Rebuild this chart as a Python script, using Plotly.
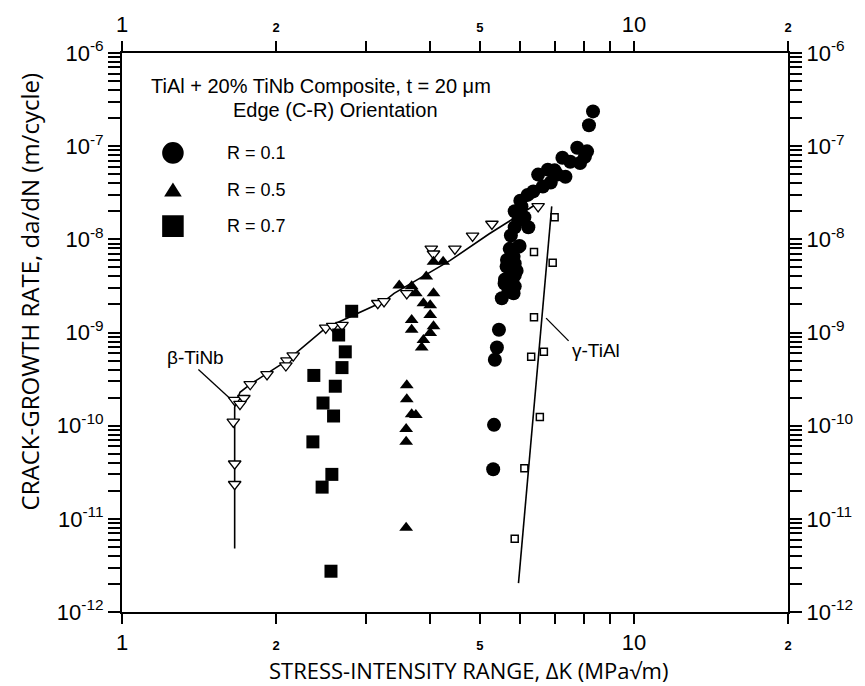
import plotly.graph_objects as go
import math

# ---------------- data ----------------
r01_dk = [8.32, 8.17, 7.75, 8.02, 7.25, 7.85, 7.51, 6.79, 6.50, 7.09, 7.35, 6.88, 6.64, 6.36,
          6.03, 5.85, 6.11, 6.22, 5.85, 5.95, 5.82, 5.85, 5.85, 5.85, 5.82, 5.72, 5.98, 5.64,
          5.77, 5.59, 5.69, 5.52, 5.45, 5.40, 5.35, 5.33, 5.31,
          8.10, 7.00, 6.20, 6.00, 5.95, 5.75, 5.65, 5.90, 5.60]
r01_da = [2.36e-7, 1.68e-7, 9.6e-8, 7.7e-8, 7.5e-8, 6.6e-8, 6.8e-8, 5.6e-8, 4.95e-8, 4.95e-8,
          4.7e-8, 4.07e-8, 3.69e-8, 3.27e-8, 2.26e-8, 2.0e-8, 1.73e-8, 1.35e-8, 1.35e-8, 8.3e-9,
          6.5e-9, 5.5e-9, 4.1e-9, 3.13e-9, 2.63e-9, 7.9e-9, 8.5e-9, 5.1e-9, 4.0e-9, 3.36e-9,
          2.77e-9, 2.33e-9, 1.07e-9, 6.9e-10, 5.1e-10, 1.02e-10, 3.4e-11,
          8.8e-8, 5.5e-8, 3.0e-8, 2.6e-8, 1.6e-8, 1.1e-8, 6.0e-9, 4.6e-9, 3.7e-9]

r05_dk = [3.48, 3.68, 3.75, 3.93, 3.88, 4.00, 4.06, 3.68, 4.00, 3.68, 4.06, 4.00, 3.88, 3.85,
          3.60, 3.60, 3.68, 3.75, 3.59, 3.59, 4.06, 4.24, 3.59]
r05_da = [3.2e-9, 3.13e-9, 2.63e-9, 3.99e-9, 2.06e-9, 1.96e-9, 2.63e-9, 1.36e-9, 1.54e-9,
          1.07e-9, 1.17e-9, 9.9e-10, 8.3e-10, 6.9e-10, 2.71e-10, 1.92e-10, 1.33e-10, 1.30e-10,
          9.2e-11, 6.7e-11, 5.75e-9, 5.75e-9, 8.0e-12]

r07_dk = [2.81, 2.65, 2.73, 2.69, 2.37, 2.61, 2.47, 2.59, 2.36, 2.57, 2.46, 2.56]
r07_da = [1.69e-9, 9.4e-10, 6.2e-10, 4.2e-10, 3.46e-10, 2.65e-10, 1.75e-10, 1.27e-10,
          6.7e-11, 3.0e-11, 2.19e-11, 2.74e-12]

tinb_dk = [1.66, 1.73, 1.70, 1.65, 1.66, 1.66, 1.78, 1.92, 2.10, 2.16, 2.09, 2.50, 2.58, 2.69,
           3.16, 3.25, 4.02, 4.06, 4.47, 4.84, 3.60, 5.28, 6.50]
tinb_da = [1.88e-10, 1.97e-10, 1.70e-10, 1.10e-10, 3.9e-11, 2.35e-11, 2.78e-10, 3.55e-10,
           5.0e-10, 5.65e-10, 4.42e-10, 1.12e-9, 1.17e-9, 1.20e-9, 2.06e-9, 2.16e-9, 7.9e-9,
           7.0e-9, 7.9e-9, 1.09e-8, 2.63e-9, 1.46e-8, 2.26e-8]

tial_dk = [7.00, 6.38, 6.94, 6.38, 6.30, 6.67, 6.55, 6.11, 5.85]
tial_da = [1.73e-8, 7.3e-9, 5.6e-9, 1.46e-9, 5.5e-10, 6.2e-10, 1.24e-10, 3.5e-11, 6.1e-12]

tinb_fit_dk = [1.66, 1.66, 1.70, 1.78, 2.10, 2.50, 3.25, 3.40, 4.37, 5.21, 6.44]
tinb_fit_da = [4.8e-12, 1.58e-10, 2.28e-10, 2.78e-10, 5.0e-10, 1.12e-9, 2.16e-9, 2.63e-9,
               5.9e-9, 1.14e-8, 2.38e-8]

tial_fit_dk = [5.95, 6.91]
tial_fit_da = [2.04e-12, 2.26e-8]

x_tickvals = [1, 2, 3, 4, 5, 6, 7, 8, 9, 10, 20]
x_ticklabels = ["1", "2", "", "", "5", "", "", "", "", "10", "2"]
y_decades = [-12, -11, -10, -9, -8, -7, -6]

# ---------------- layout geometry ----------------
W, H = 865, 686
PX0, PX1, PY0, PY1 = 122, 802, 47, 612

def px(x):
    return (x - PX0) / (PX1 - PX0)

def py(y):
    return (PY1 - y) / (PY1 - PY0)

FONT = "Liberation Sans, Arial, sans-serif"
TITLEFONT = "Open Sans, Noto Sans, sans-serif"

small = {"2", "5"}
xt_text = [("<span style='font-size:13px;font-weight:bold'>%s</span>" % t) if t in small else t
           for t in x_ticklabels]

y_tickvals, y_ticktext = [], []
for d in y_decades:
    y_tickvals.append(10.0 ** d)
    y_ticktext.append("10<sup>%d</sup>" % d)
    if d < -6:
        for m in range(2, 10):
            y_tickvals.append(m * 10.0 ** d)
            y_ticktext.append("")

fig = go.Figure()

fig.add_trace(go.Scatter(x=tinb_fit_dk, y=tinb_fit_da, mode="lines",
                         line=dict(color="black", width=1.6), showlegend=False))
fig.add_trace(go.Scatter(x=tial_fit_dk, y=tial_fit_da, mode="lines",
                         line=dict(color="black", width=1.6), showlegend=False))
fig.add_trace(go.Scatter(x=tinb_dk, y=tinb_da, mode="markers",
                         marker=dict(symbol="triangle-down", size=11, color="white",
                                     line=dict(color="black", width=1.3)), showlegend=False))
fig.add_trace(go.Scatter(x=tial_dk, y=tial_da, mode="markers",
                         marker=dict(symbol="square", size=7, color="white",
                                     line=dict(color="black", width=1.5)), showlegend=False))
fig.add_trace(go.Scatter(x=r07_dk, y=r07_da, mode="markers",
                         marker=dict(symbol="square", size=13, color="black"), showlegend=False))
fig.add_trace(go.Scatter(x=r05_dk, y=r05_da, mode="markers",
                         marker=dict(symbol="triangle-up", size=12, color="black"), showlegend=False))
fig.add_trace(go.Scatter(x=r01_dk, y=r01_da, mode="markers",
                         marker=dict(symbol="circle", size=14, color="black"), showlegend=False))
# invisible trace for mirrored axes
fig.add_trace(go.Scatter(x=[1, 20], y=[1e-12, 1e-6], xaxis="x2", yaxis="y2", mode="markers",
                         marker=dict(opacity=0), showlegend=False, hoverinfo="skip"))

xcommon = dict(type="log", range=[0, math.log10(20)], tickvals=x_tickvals, ticktext=xt_text,
               ticks="outside", ticklen=10, tickwidth=1.5, tickcolor="black",
               showline=True, linewidth=2, linecolor="black", showgrid=False, zeroline=False,
               tickfont=dict(family=FONT, size=22, color="black"))
ycommon = dict(type="log", range=[-12, -6], tickvals=y_tickvals, ticktext=y_ticktext,
               ticks="outside", ticklen=12, tickwidth=1.5, tickcolor="black",
               showline=True, linewidth=2, linecolor="black", showgrid=False, zeroline=False,
               tickfont=dict(family=FONT, size=22, color="black"))

fig.update_layout(
    width=W, height=H, margin=dict(l=PX0, r=W - PX1, t=PY0, b=H - PY1),
    paper_bgcolor="white", plot_bgcolor="white", showlegend=False,
    xaxis=dict(**xcommon, anchor="y", side="bottom"),
    xaxis2=dict(**xcommon, overlaying="x", anchor="y", side="top"),
    yaxis=dict(**ycommon, anchor="x", side="left"),
    yaxis2=dict(**ycommon, overlaying="y", anchor="x", side="right"),
)

ann = []
def text(x, y, s, size=20, xanchor="left", family=FONT, angle=0):
    ann.append(dict(x=px(x), y=py(y), xref="paper", yref="paper", text=s, showarrow=False,
                    xanchor=xanchor, yanchor="middle", textangle=angle,
                    font=dict(family=family, size=size, color="black")))

text(325, 80, "TiAl + 20% TiNb Composite, t = 20 \u03bcm", 20, "center")
text(340, 105, "Edge (C-R) Orientation", 20, "center")
text(227, 148, "R = 0.1", 18)
text(227, 185, "R = 0.5", 18)
text(227, 222, "R = 0.7", 18)
text(197, 355, "\u03b2-TiNb", 19, "center")
text(606, 348, "\u03b3-TiAl", 19, "center")
text(476, 671, "STRESS-INTENSITY RANGE, \u0394K (MPa\u221am)", 22, "center", TITLEFONT)
text(28, 288, "CRACK-GROWTH RATE, da/dN (m/cycle)", 24, "center", TITLEFONT, -90)
fig.update_layout(annotations=ann)

shapes = []
def seg(x0, y0, x1, y1):
    shapes.append(dict(type="line", xref="paper", yref="paper", x0=px(x0), y0=py(y0),
                       x1=px(x1), y1=py(y1), line=dict(color="black", width=1.3)))
seg(200, 367, 232, 396)
seg(555, 315, 578, 338)
# legend glyphs
cx, r = 174, 11
shapes.append(dict(type="circle", xref="paper", yref="paper", x0=px(cx - r), x1=px(cx + r),
                   y0=py(148 + r), y1=py(148 - r), fillcolor="black", line=dict(width=0)))
shapes.append(dict(type="path", xref="paper", yref="paper",
                   path="M %f %f L %f %f L %f %f Z" % (px(165), py(192), px(183), py(192), px(174), py(178)),
                   fillcolor="black", line=dict(width=0)))
shapes.append(dict(type="rect", xref="paper", yref="paper", x0=px(163), x1=px(185),
                   y0=py(233), y1=py(211), fillcolor="black", line=dict(width=0)))
fig.update_layout(shapes=shapes)

fig.write_html("out.html")
